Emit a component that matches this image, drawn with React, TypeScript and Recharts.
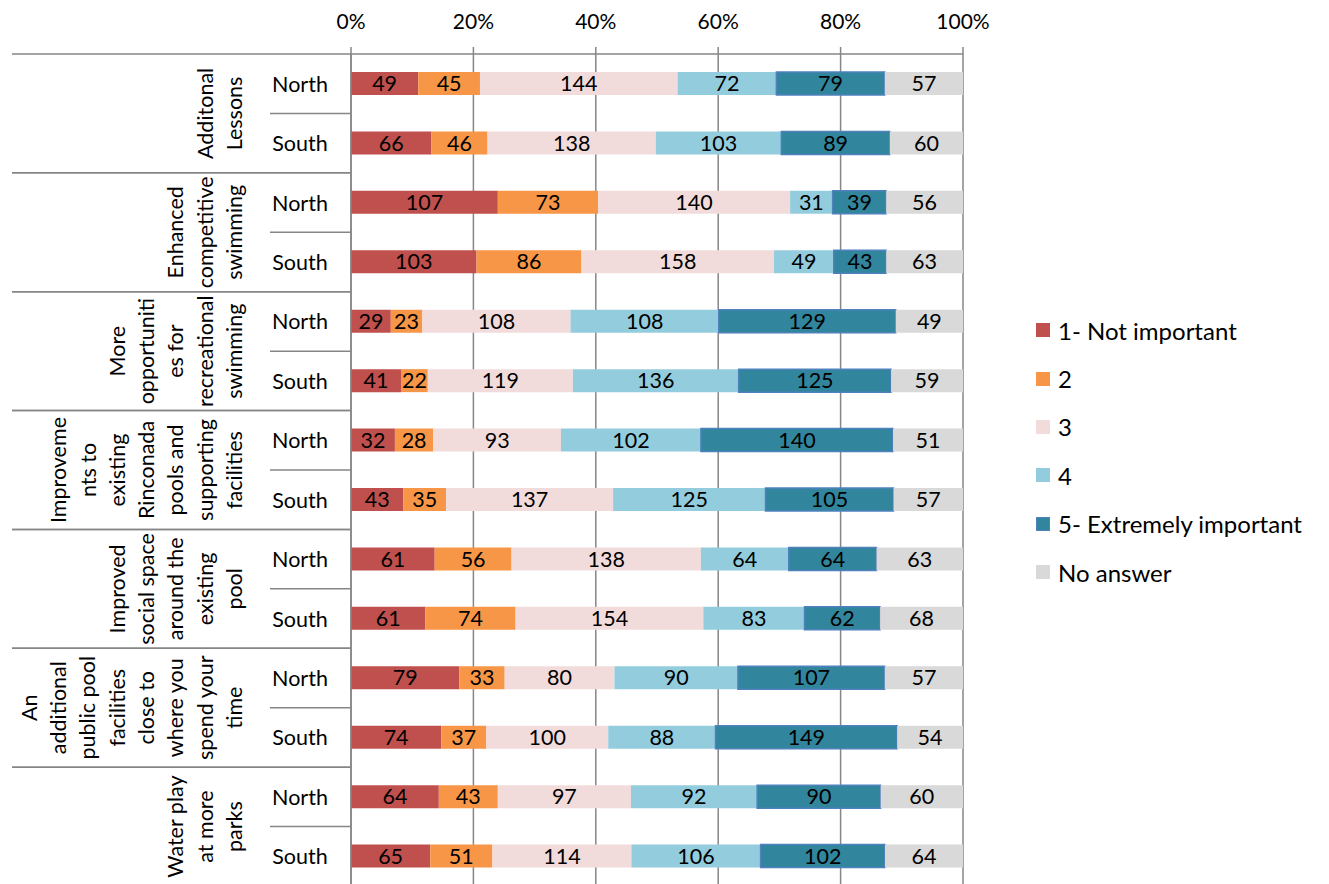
import React from 'react';
import { BarChart, Bar, XAxis, YAxis, CartesianGrid, LabelList } from 'recharts';

const groupLines: string[][] = [
  ['Additonal', 'Lessons'],
  ['Enhanced', 'competitive', 'swimming'],
  ['More', 'opportuniti', 'es for', 'recreational', 'swimming'],
  ['Improveme', 'nts to', 'existing', 'Rinconada', 'pools and', 'supporting', 'facilities'],
  ['Improved', 'social space', 'around the', 'existing', 'pool'],
  ['An', 'additional', 'public pool', 'facilities', 'close to', 'where you', 'spend your', 'time'],
  ['Water play', 'at more', 'parks'],
];
const regions = ['North', 'South'];

const seriesNames = ['1- Not important', '2', '3', '4', '5- Extremely important', 'No answer'];
const seriesColors = ['#C0504D', '#F79646', '#F2DCDB', '#93CDDD', '#31859C', '#D9D9D9'];

// order: group1 North, group1 South, group2 North, ...
const notImportant = [49, 66, 107, 103, 29, 41, 32, 43, 61, 61, 79, 74, 64, 65];
const two = [45, 46, 73, 86, 23, 22, 28, 35, 56, 74, 33, 37, 43, 51];
const three = [144, 138, 140, 158, 108, 119, 93, 137, 138, 154, 80, 100, 97, 114];
const four = [72, 103, 31, 49, 108, 136, 102, 125, 64, 83, 90, 88, 92, 106];
const extremely = [79, 89, 39, 43, 129, 125, 140, 105, 64, 62, 107, 149, 90, 102];
const noAnswer = [57, 60, 56, 63, 49, 59, 51, 57, 63, 68, 57, 54, 60, 64];

const xTicks = [0, 0.2, 0.4, 0.6, 0.8, 1];

const seriesValues = [notImportant, two, three, four, extremely, noAnswer];

const data = notImportant.map((_, i) => {
  const g = Math.floor(i / 2);
  const r = regions[i % 2];
  const row: any = { key: `${g}|${r}` };
  seriesValues.forEach((arr, s) => {
    row[`s${s}`] = arr[i];
  });
  return row;
});

const FONT = 'Lato, "Open Sans", sans-serif';
const FS = 21.5;
const GRID = '#868686';
const W = 1329;
const H = 884;
const PLOT_LEFT = 351;
const PLOT_RIGHT = 963;
const TOP = 54;
const BOTTOM_MARGIN = -2;
const BAND_FALLBACK = (H - BOTTOM_MARGIN - TOP) / data.length;

const YTick = (props: any) => {
  const { y, payload } = props;
  const [gStr, region] = String(payload.value).split('|');
  const g = Number(gStr);
  const half = payload.offset && payload.offset > 0 ? payload.offset : BAND_FALLBACK / 2;
  const lines = groupLines[g];
  const lineGap = 29.3;
  const lastX = 234;
  const cy = y + half;
  return (
    <g>
      <text
        x={300}
        y={y}
        textAnchor="middle"
        dominantBaseline="central"
        fontFamily={FONT}
        fontSize={FS}
        fill="#000"
      >
        {region}
      </text>
      {region === 'North' && (
        <g>
          <line x1={270} x2={PLOT_LEFT} y1={y + half} y2={y + half} stroke={GRID} strokeWidth={1.5} />
          <line x1={12} x2={PLOT_LEFT} y1={y - half} y2={y - half} stroke={GRID} strokeWidth={1.5} />
          {lines.map((ln, i) => {
            const lx = lastX - (lines.length - 1 - i) * lineGap;
            return (
              <text
                key={i}
                x={lx}
                y={cy}
                transform={`rotate(-90 ${lx} ${cy})`}
                textAnchor="middle"
                dominantBaseline="central"
                fontFamily={FONT}
                fontSize={FS}
                fill="#000"
              >
                {ln}
              </text>
            );
          })}
        </g>
      )}
      {region === 'South' && (
        <line x1={12} x2={PLOT_LEFT} y1={y + half} y2={y + half} stroke={GRID} strokeWidth={1.5} />
      )}
    </g>
  );
};

export default function App() {
  return (
    <div style={{ position: 'absolute', left: 0, top: 0, width: W, height: H, background: '#fff' }}>
      <BarChart
        width={W}
        height={H}
        data={data}
        layout="vertical"
        stackOffset="expand"
        barCategoryGap={0}
        margin={{ top: 0, left: 0, right: W - PLOT_RIGHT, bottom: BOTTOM_MARGIN }}
      >
        <CartesianGrid horizontal={false} vertical={true} stroke={GRID} strokeWidth={1.5} />
        <XAxis
          type="number"
          orientation="top"
          domain={[0, 1]}
          ticks={xTicks}
          tickFormatter={(v: number) => `${Math.round(v * 100)}%`}
          height={TOP}
          tickSize={7}
          tickMargin={18}
          axisLine={{ stroke: GRID, strokeWidth: 1.5 }}
          tickLine={{ stroke: GRID, strokeWidth: 1.5 }}
          tick={{ fontFamily: FONT, fontSize: 21, fill: '#000' }}
          allowDataOverflow
        />
        <YAxis
          type="category"
          dataKey="key"
          width={PLOT_LEFT}
          axisLine={{ stroke: GRID, strokeWidth: 1.5 }}
          tickLine={false}
          tick={<YTick />}
          interval={0}
        />
        {seriesNames.map((name, s) => (
          <Bar
            key={name}
            dataKey={`s${s}`}
            name={name}
            stackId="a"
            fill={seriesColors[s]}
            stroke={s === 4 ? '#4F81BD' : 'none'}
            strokeWidth={s === 4 ? 1.5 : 0}
            barSize={23}
            isAnimationActive={false}
          >
            <LabelList
              dataKey={`s${s}`}
              position="center"
              fill="#000"
              style={{ fontFamily: FONT, fontSize: FS }}
            />
          </Bar>
        ))}
      </BarChart>
      <div style={{ position: 'absolute', left: 1036, top: 306, fontFamily: FONT, fontSize: 24, color: '#000' }}>
        {seriesNames.map((name, s) => (
          <div key={name} style={{ display: 'flex', alignItems: 'center', height: 48.4 }}>
            <div
              style={{
                width: 14,
                height: 14,
                background: seriesColors[s],
                boxSizing: 'border-box',
                border: s === 4 ? '1.5px solid #4F81BD' : 'none',
                marginRight: 8,
              }}
            />
            <span>{name}</span>
          </div>
        ))}
      </div>
    </div>
  );
}
